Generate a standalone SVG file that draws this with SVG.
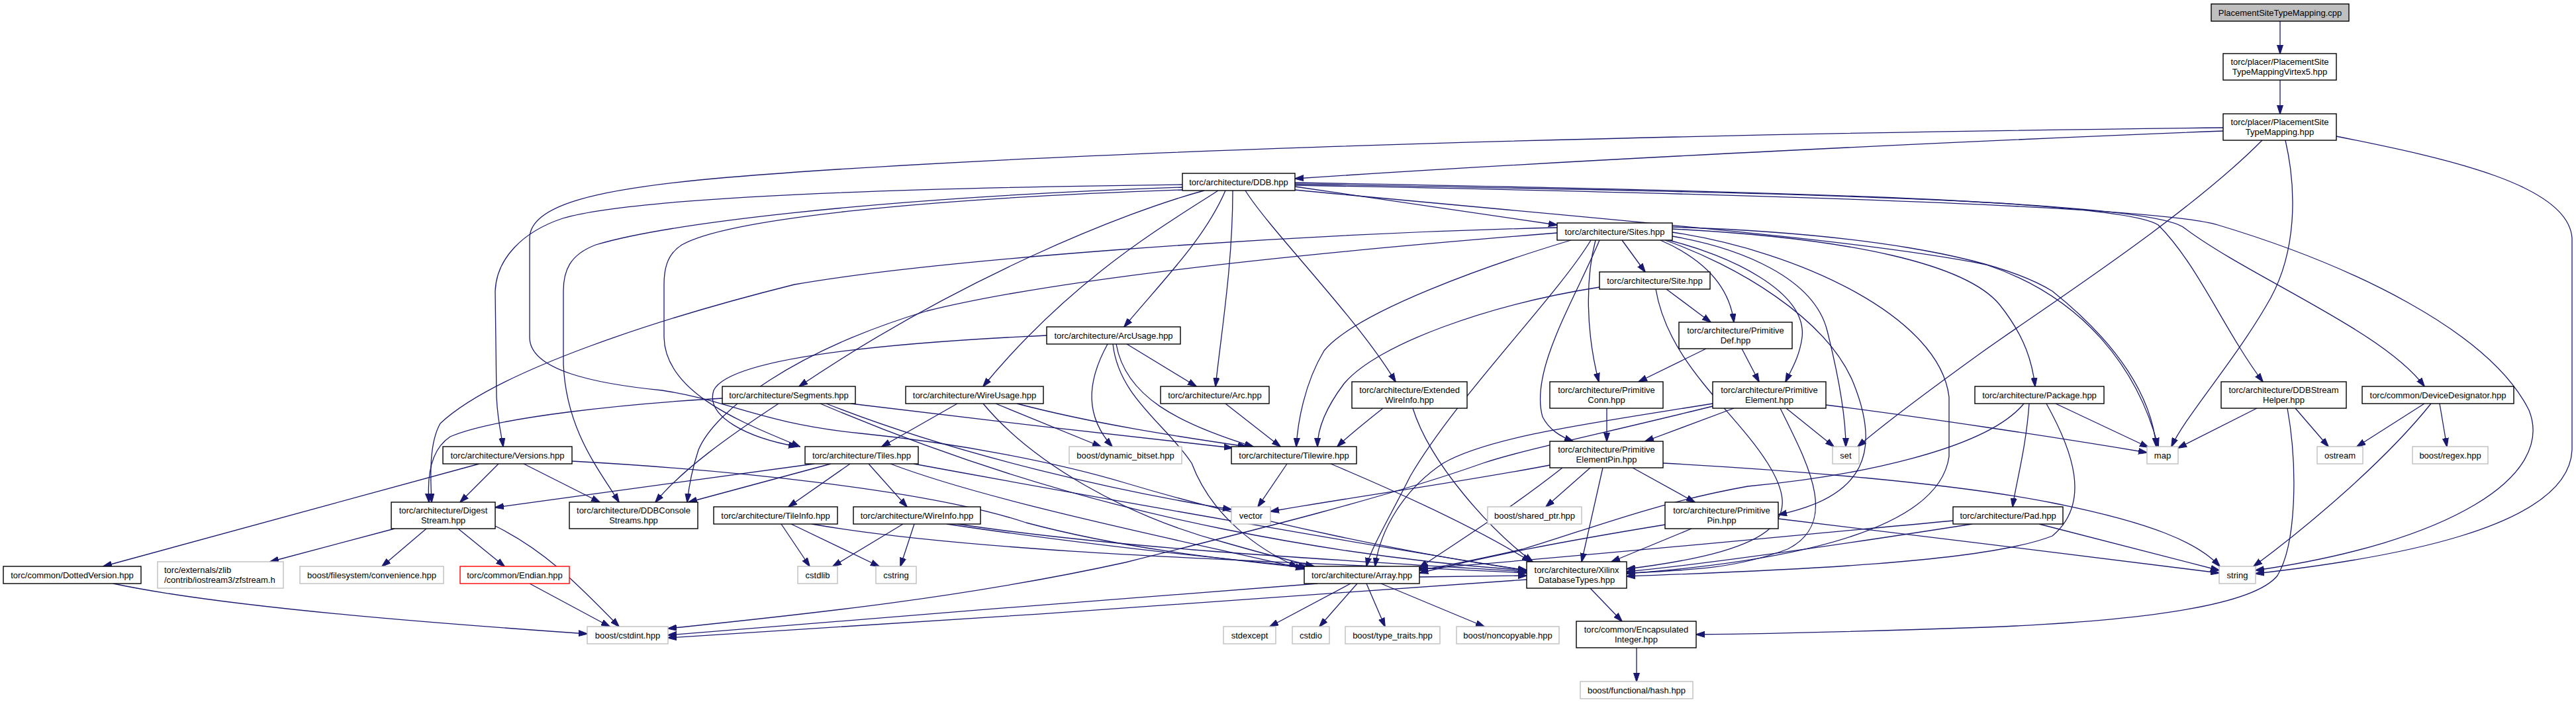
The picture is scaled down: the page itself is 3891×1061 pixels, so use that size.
<svg xmlns="http://www.w3.org/2000/svg" width="3891" height="1061" viewBox="0 0 3891 1061">
<defs>
<marker id="ah" markerWidth="14" markerHeight="10" refX="13" refY="5" orient="auto" markerUnits="userSpaceOnUse"><path d="M0,0.5 L14,5 L0,9.5 z" fill="#191970" stroke="#191970" stroke-width="1"/></marker>
<style>
.n rect{fill:#fff;stroke:#000;stroke-width:1.4}
.s rect{fill:#fff;stroke:#bfbfbf;stroke-width:1.4}
.r rect{fill:#fff;stroke:#ff0000;stroke-width:1.4}
.c rect{fill:#bfbfbf;stroke:#000;stroke-width:1.4}
text{font-family:"Liberation Sans",Arial,Helvetica,sans-serif;font-size:13px;fill:#000;text-anchor:middle}
#edges path{fill:none;stroke:#191970;stroke-width:1.3;marker-end:url(#ah)}
</style>
</defs>
<rect width="3891" height="1061" fill="#fff"/>
<g id="edges">
<path d="M3444,32 L3444,81"/>
<path d="M3444,121 L3444,172"/>
<path d="M3358,198 C3000,212 2400,240 1956,270"/>
<path d="M3358,193 C2300,205 1500,235 1100,268 C900,285 800,310 800,360 L800,510 C800,560 900,580 1000,590 C1100,605 1150,640 1300,655 C1450,670 1600,700 1700,730 C1900,790 2150,840 2306,862"/>
<path d="M3417,212 C3300,330 3080,470 2990,535 C2900,600 2835,650 2806,675"/>
<path d="M3452,212 C3470,290 3468,380 3430,450 C3380,540 3300,630 3280,675"/>
<path d="M3529,206 C3700,240 3880,280 3885,360 L3885,680 C3880,800 3600,845 3407,867"/>
<path d="M1786,279 C1300,285 950,300 850,330 C790,350 750,390 748,440 L750,600 C752,640 758,660 760,675"/>
<path d="M1786,283 C1300,300 1000,340 900,370 C860,385 851,410 851,440 L851,550 C855,650 905,710 935,759"/>
<path d="M1786,287 C1400,300 1100,330 1030,370 C1006,385 1003,410 1003,430 L1003,510 C1005,600 1140,645 1208,675"/>
<path d="M1819,288 C1700,320 1450,420 1207,584"/>
<path d="M1840,288 C1760,340 1620,420 1485,584"/>
<path d="M1851,288 C1820,360 1760,420 1698,494"/>
<path d="M1862,288 C1862,400 1845,500 1836,584"/>
<path d="M1881,288 C1920,350 2050,480 2108,577"/>
<path d="M1956,282 L2352,340"/>
<path d="M1956,287 C2400,330 2800,360 3000,400 C3150,450 3230,560 3260,675"/>
<path d="M1956,276 C2600,288 3200,300 3260,340 C3320,400 3360,500 3418,577"/>
<path d="M1956,278 C2600,290 3250,300 3300,345 C3400,420 3600,500 3662,584"/>
<path d="M1956,280 C2600,292 3250,310 3350,340 C3550,400 3760,500 3820,620 C3860,720 3700,820 3407,862"/>
<path d="M2450,363 L2485,411"/>
<path d="M2508,363 C2570,390 2612,430 2619,487"/>
<path d="M2410,363 C2395,420 2395,500 2415,577"/>
<path d="M2520,363 C2610,385 2730,440 2722,510 C2718,540 2705,560 2697,577"/>
<path d="M2416,363 C2380,450 2310,560 2330,630 C2340,650 2358,660 2376,667"/>
<path d="M2526,357 C2630,375 2740,420 2760,500 C2780,580 2788,640 2788,675"/>
<path d="M2526,346 C2800,360 2970,400 3020,460 C3060,510 3070,550 3074,584"/>
<path d="M2526,343 C2800,352 3010,385 3100,440 C3200,520 3250,600 3257,675"/>
<path d="M2373,363 C2250,400 2050,470 2000,530 C1970,580 1960,640 1958,675"/>
<path d="M2515,363 C2620,400 2760,480 2800,580 C2840,680 2820,750 2686,778"/>
<path d="M2526,351 C2720,380 2930,480 2944,600 L2944,690 C2930,790 2750,845 2457,867"/>
<path d="M2403,363 C2350,450 2200,600 2130,720 C2100,780 2070,830 2064,856"/>
<path d="M2352,344 C1900,355 1400,395 1200,430 C1000,480 750,560 665,640 C648,670 650,720 652,759"/>
<path d="M2352,352 C2000,380 1600,420 1400,470 C1200,530 1080,620 1055,680 C1045,710 1040,740 1038,759"/>
<path d="M2416,434 C2250,460 2080,520 2030,580 C2000,620 1990,650 1990,675"/>
<path d="M2517,437 L2584,487"/>
<path d="M2501,437 C2520,550 2620,620 2670,700 C2720,780 2700,830 2457,860"/>
<path d="M2577,527 L2475,577"/>
<path d="M2631,527 L2657,577"/>
<path d="M2089,617 C2060,640 2035,660 2020,675"/>
<path d="M2134,617 C2160,700 2250,800 2315,849"/>
<path d="M2427,617 L2427,667"/>
<path d="M2619,617 L2485,667"/>
<path d="M2698,617 L2770,675"/>
<path d="M2758,612 C2900,630 3100,660 3243,684"/>
<path d="M2587,610 C2400,640 2250,660 2180,700 C2120,740 2085,800 2077,856"/>
<path d="M2587,614 C2400,660 2300,680 2240,700 C2100,750 1900,800 1700,850 C1450,905 1200,930 1009,950"/>
<path d="M2689,617 C2730,700 2780,790 2700,830 C2620,860 2550,862 2457,866"/>
<path d="M2360,707 C2280,770 2200,820 2144,858"/>
<path d="M2402,707 L2335,766"/>
<path d="M2421,707 L2389,849"/>
<path d="M2466,707 L2560,759"/>
<path d="M2341,703 C2200,730 2050,750 1919,773"/>
<path d="M2512,700 C2700,710 2950,730 3100,760 C3250,790 3320,820 3353,856"/>
<path d="M2555,799 L2434,849"/>
<path d="M2686,784 C2900,810 3150,840 3352,866"/>
<path d="M2515,793 C2350,820 2250,840 2144,866"/>
<path d="M3065,610 C3060,680 3045,730 3040,766"/>
<path d="M3105,610 L3245,676"/>
<path d="M3091,610 C3130,680 3160,760 3100,810 C3000,850 2700,862 2457,871"/>
<path d="M3057,610 C3000,680 2800,720 2640,735 C2500,760 2400,800 2300,830 C2220,848 2180,856 2144,862"/>
<path d="M3080,792 L3352,862"/>
<path d="M2979,792 C2800,820 2600,850 2457,864"/>
<path d="M2950,787 C2700,810 2400,840 2144,860"/>
<path d="M3409,617 L3290,677"/>
<path d="M3467,617 L3517,675"/>
<path d="M3455,617 C3470,700 3470,820 3440,870 C3400,920 3200,940 3000,948 C2800,955 2650,958 2562,959"/>
<path d="M3662,610 L3560,675"/>
<path d="M3685,610 L3696,675"/>
<path d="M3672,610 C3600,700 3480,800 3404,856"/>
<path d="M753,701 L695,759"/>
<path d="M791,701 L906,759"/>
<path d="M724,701 L156,856"/>
<path d="M864,697 C1100,710 1400,740 1550,790 C1700,830 1850,845 1970,858"/>
<path d="M596,799 L408,849"/>
<path d="M644,799 L577,856"/>
<path d="M692,799 L762,856"/>
<path d="M748,795 C820,830 870,880 935,947"/>
<path d="M800,882 L921,947"/>
<path d="M171,882 C350,920 700,945 887,958"/>
<path d="M1284,701 L1191,766"/>
<path d="M1312,701 L1370,766"/>
<path d="M1230,701 C1100,720 900,745 748,767"/>
<path d="M1255,701 L1040,759"/>
<path d="M1345,701 C1500,760 1800,820 1970,860"/>
<path d="M1380,701 C1700,760 2100,830 2306,862"/>
<path d="M1091,602 C950,610 750,630 680,660 C650,680 645,720 648,759"/>
<path d="M1176,610 C1100,660 1030,710 990,759"/>
<path d="M1285,610 C1450,630 1700,660 1862,677"/>
<path d="M1248,610 C1450,690 1700,745 1860,770"/>
<path d="M1239,610 C1450,700 1650,760 1850,800 C2050,840 2200,855 2306,862"/>
<path d="M1180,792 L1223,856"/>
<path d="M1195,792 L1328,856"/>
<path d="M1226,792 C1500,840 2000,850 2306,866"/>
<path d="M1364,792 L1258,856"/>
<path d="M1381,792 L1360,856"/>
<path d="M1446,792 C1700,830 2000,845 2306,864"/>
<path d="M1430,792 C1650,825 1850,845 1975,857"/>
<path d="M1446,610 L1332,675"/>
<path d="M1504,610 L1663,675"/>
<path d="M1536,610 C1650,640 1780,660 1883,675"/>
<path d="M1485,610 C1560,700 1700,780 1850,820 C1920,840 1960,850 1985,856"/>
<path d="M1581,507 C1300,520 1100,545 1078,590 C1065,630 1130,662 1204,675"/>
<path d="M1702,520 L1807,584"/>
<path d="M1673,520 C1640,580 1640,630 1680,675"/>
<path d="M1686,520 C1700,600 1780,640 1893,675"/>
<path d="M1681,520 C1690,600 1760,640 1800,700 C1830,780 1900,830 1960,857"/>
<path d="M1851,610 L1934,675"/>
<path d="M1944,701 L1900,766"/>
<path d="M2010,701 C2150,760 2250,810 2312,849"/>
<path d="M2040,882 L1918,947"/>
<path d="M2050,882 L1993,947"/>
<path d="M2064,882 L2092,947"/>
<path d="M2086,882 L2242,947"/>
<path d="M1990,882 C1700,905 1300,935 1009,960"/>
<path d="M2144,872 L2306,870"/>
<path d="M2402,889 L2450,939"/>
<path d="M2306,876 C2000,900 1400,940 1009,964"/>
<path d="M2472,979 L2472,1030"/>
</g>
<g id="n_cpp" class="c"><rect x="3340" y="6" width="208" height="26"/><text x="3444" y="23.5">PlacementSiteTypeMapping.cpp</text></g>
<g id="n_virtex5" class="n"><rect x="3358" y="81" width="171" height="40"/><text x="3443.5" y="97.5">torc/placer/PlacementSite</text><text x="3443.5" y="112.5">TypeMappingVirtex5.hpp</text></g>
<g id="n_mapping" class="n"><rect x="3358" y="172" width="171" height="40"/><text x="3443.5" y="188.5">torc/placer/PlacementSite</text><text x="3443.5" y="203.5">TypeMapping.hpp</text></g>
<g id="n_ddb" class="n"><rect x="1786" y="262" width="170" height="26"/><text x="1871" y="279.5">torc/architecture/DDB.hpp</text></g>
<g id="n_sites" class="n"><rect x="2352" y="337" width="174" height="26"/><text x="2439" y="354.5">torc/architecture/Sites.hpp</text></g>
<g id="n_site" class="n"><rect x="2416" y="411" width="167" height="26"/><text x="2499.5" y="428.5">torc/architecture/Site.hpp</text></g>
<g id="n_arcusage" class="n"><rect x="1581" y="494" width="202" height="26"/><text x="1682" y="511.5">torc/architecture/ArcUsage.hpp</text></g>
<g id="n_primdef" class="n"><rect x="2536" y="487" width="171" height="40"/><text x="2621.5" y="503.5">torc/architecture/Primitive</text><text x="2621.5" y="518.5">Def.hpp</text></g>
<g id="n_segments" class="n"><rect x="1091" y="584" width="201" height="26"/><text x="1191.5" y="601.5">torc/architecture/Segments.hpp</text></g>
<g id="n_wireusage" class="n"><rect x="1368" y="584" width="208" height="26"/><text x="1472" y="601.5">torc/architecture/WireUsage.hpp</text></g>
<g id="n_arc" class="n"><rect x="1753" y="584" width="164" height="26"/><text x="1835" y="601.5">torc/architecture/Arc.hpp</text></g>
<g id="n_extwire" class="n"><rect x="2042" y="577" width="174" height="40"/><text x="2129" y="593.5">torc/architecture/Extended</text><text x="2129" y="608.5">WireInfo.hpp</text></g>
<g id="n_primconn" class="n"><rect x="2341" y="577" width="171" height="40"/><text x="2426.5" y="593.5">torc/architecture/Primitive</text><text x="2426.5" y="608.5">Conn.hpp</text></g>
<g id="n_primelem" class="n"><rect x="2587" y="577" width="171" height="40"/><text x="2672.5" y="593.5">torc/architecture/Primitive</text><text x="2672.5" y="608.5">Element.hpp</text></g>
<g id="n_package" class="n"><rect x="2983" y="584" width="195" height="26"/><text x="3080.5" y="601.5">torc/architecture/Package.hpp</text></g>
<g id="n_ddbsh" class="n"><rect x="3355" y="577" width="189" height="40"/><text x="3449.5" y="593.5">torc/architecture/DDBStream</text><text x="3449.5" y="608.5">Helper.hpp</text></g>
<g id="n_devdes" class="n"><rect x="3568" y="584" width="229" height="26"/><text x="3682.5" y="601.5">torc/common/DeviceDesignator.hpp</text></g>
<g id="n_versions" class="n"><rect x="669" y="675" width="195" height="26"/><text x="766.5" y="692.5">torc/architecture/Versions.hpp</text></g>
<g id="n_tiles" class="n"><rect x="1216" y="675" width="171" height="26"/><text x="1301.5" y="692.5">torc/architecture/Tiles.hpp</text></g>
<g id="n_dynbitset" class="s"><rect x="1615" y="675" width="170" height="26"/><text x="1700" y="692.5">boost/dynamic_bitset.hpp</text></g>
<g id="n_tilewire" class="n"><rect x="1860" y="675" width="189" height="26"/><text x="1954.5" y="692.5">torc/architecture/Tilewire.hpp</text></g>
<g id="n_pepin" class="n"><rect x="2341" y="667" width="171" height="40"/><text x="2426.5" y="683.5">torc/architecture/Primitive</text><text x="2426.5" y="698.5">ElementPin.hpp</text></g>
<g id="n_set" class="s"><rect x="2768" y="675" width="40" height="26"/><text x="2788" y="692.5">set</text></g>
<g id="n_map" class="s"><rect x="3243" y="675" width="47" height="26"/><text x="3266.5" y="692.5">map</text></g>
<g id="n_ostream" class="s"><rect x="3500" y="675" width="69" height="26"/><text x="3534.5" y="692.5">ostream</text></g>
<g id="n_regex" class="s"><rect x="3644" y="675" width="114" height="26"/><text x="3701" y="692.5">boost/regex.hpp</text></g>
<g id="n_digest" class="n"><rect x="591" y="759" width="157" height="40"/><text x="669.5" y="775.5">torc/architecture/Digest</text><text x="669.5" y="790.5">Stream.hpp</text></g>
<g id="n_ddbcs" class="n"><rect x="860" y="759" width="194" height="40"/><text x="957" y="775.5">torc/architecture/DDBConsole</text><text x="957" y="790.5">Streams.hpp</text></g>
<g id="n_tileinfo" class="n"><rect x="1078" y="766" width="187" height="26"/><text x="1171.5" y="783.5">torc/architecture/TileInfo.hpp</text></g>
<g id="n_wireinfo" class="n"><rect x="1289" y="766" width="192" height="26"/><text x="1385" y="783.5">torc/architecture/WireInfo.hpp</text></g>
<g id="n_vector" class="s"><rect x="1860" y="766" width="59" height="26"/><text x="1889.5" y="783.5">vector</text></g>
<g id="n_sharedptr" class="s"><rect x="2247" y="766" width="142" height="26"/><text x="2318" y="783.5">boost/shared_ptr.hpp</text></g>
<g id="n_primpin" class="n"><rect x="2515" y="759" width="171" height="40"/><text x="2600.5" y="775.5">torc/architecture/Primitive</text><text x="2600.5" y="790.5">Pin.hpp</text></g>
<g id="n_pad" class="n"><rect x="2950" y="766" width="166" height="26"/><text x="3033" y="783.5">torc/architecture/Pad.hpp</text></g>
<g id="n_dotted" class="n"><rect x="5" y="856" width="208" height="26"/><text x="109" y="873.5">torc/common/DottedVersion.hpp</text></g>
<g id="n_zfstream" class="s"><rect x="238" y="849" width="190" height="40"/><text x="248" y="865.5" style="text-anchor:start">torc/externals/zlib</text><text x="248" y="880.5" style="text-anchor:start">/contrib/iostream3/zfstream.h</text></g>
<g id="n_filesystem" class="s"><rect x="453" y="856" width="217" height="26"/><text x="561.5" y="873.5">boost/filesystem/convenience.hpp</text></g>
<g id="n_endian" class="r"><rect x="695" y="856" width="165" height="26"/><text x="777.5" y="873.5">torc/common/Endian.hpp</text></g>
<g id="n_cstdlib" class="s"><rect x="1205" y="856" width="60" height="26"/><text x="1235" y="873.5">cstdlib</text></g>
<g id="n_cstring" class="s"><rect x="1323" y="856" width="61" height="26"/><text x="1353.5" y="873.5">cstring</text></g>
<g id="n_array" class="n"><rect x="1970" y="856" width="174" height="26"/><text x="2057" y="873.5">torc/architecture/Array.hpp</text></g>
<g id="n_xilinx" class="n"><rect x="2306" y="849" width="151" height="40"/><text x="2381.5" y="865.5">torc/architecture/Xilinx</text><text x="2381.5" y="880.5">DatabaseTypes.hpp</text></g>
<g id="n_string" class="s"><rect x="3352" y="856" width="55" height="26"/><text x="3379.5" y="873.5">string</text></g>
<g id="n_cstdint" class="s"><rect x="887" y="947" width="122" height="26"/><text x="948" y="964.5">boost/cstdint.hpp</text></g>
<g id="n_stdexcept" class="s"><rect x="1848" y="947" width="79" height="26"/><text x="1887.5" y="964.5">stdexcept</text></g>
<g id="n_cstdio" class="s"><rect x="1952" y="947" width="56" height="26"/><text x="1980" y="964.5">cstdio</text></g>
<g id="n_typetraits" class="s"><rect x="2032" y="947" width="143" height="26"/><text x="2103.5" y="964.5">boost/type_traits.hpp</text></g>
<g id="n_noncopyable" class="s"><rect x="2200" y="947" width="155" height="26"/><text x="2277.5" y="964.5">boost/noncopyable.hpp</text></g>
<g id="n_encap" class="n"><rect x="2381" y="939" width="181" height="40"/><text x="2471.5" y="955.5">torc/common/Encapsulated</text><text x="2471.5" y="970.5">Integer.hpp</text></g>
<g id="n_hash" class="s"><rect x="2387" y="1030" width="170" height="26"/><text x="2472" y="1047.5">boost/functional/hash.hpp</text></g>
</svg>
